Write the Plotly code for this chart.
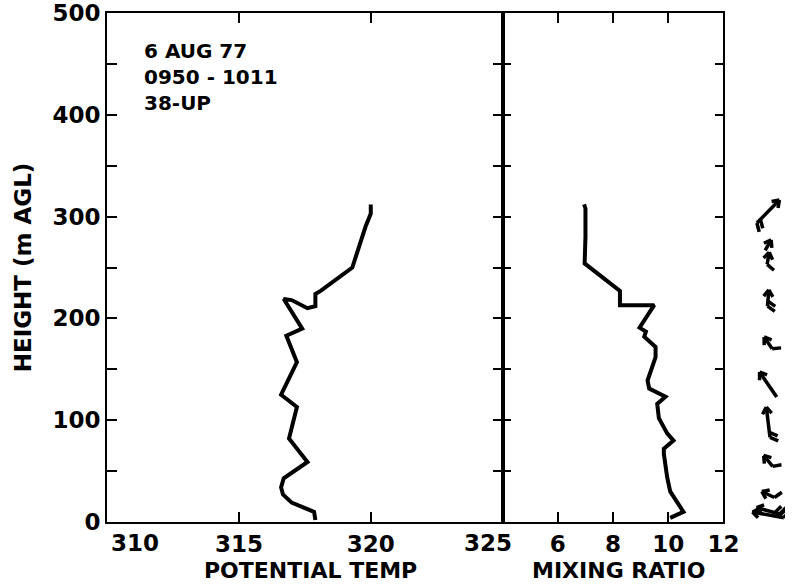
import math
import plotly.graph_objects as go

# ---- data ----
theta_height = [2, 10, 19, 27, 34, 43, 59, 82, 113, 125, 157, 183, 190, 214, 219, 218, 210, 212, 224, 227, 250, 290, 303, 312]
theta_value = [317.9, 317.85, 317.0, 316.67, 316.6, 316.7, 317.6, 316.9, 317.2, 316.6, 317.2, 316.8, 317.4, 316.8, 316.7, 317.0, 317.6, 317.9, 317.9, 318.1, 319.3, 319.8, 320.0, 320.0]

mr_height = [4, 10, 30, 44, 67, 72, 80, 87, 102, 116, 123, 131, 139, 162, 172, 182, 187, 191, 213, 213, 227, 254, 280, 300, 308, 312]
mr_value = [10.07, 10.55, 10.07, 9.96, 9.84, 9.84, 10.19, 9.96, 9.66, 9.6, 9.9, 9.31, 9.25, 9.54, 9.54, 9.13, 9.19, 8.96, 9.49, 8.25, 8.25, 6.97, 7.0, 7.02, 7.0, 6.95]

wind_height = [305, 272, 259, 220, 176, 135, 98, 60, 27, 11, 7]
wind_dir = [45, 60, 80, 85, 125, 125, 97, 130, 155, 165, 170]   # direction arrow points (deg, ccw from east)
wind_len = [32, 12, 12, 16, 14, 30, 30, 14, 14, 24, 32]
wind_feathers = [2, 0, 1, 2, 1, 0, 2, 1, 1, 2, 2]

theta_ticks = [315, 320]
mr_ticks = [6, 8, 10, 12]
height_ticks = list(range(0, 501, 50))
height_labels = [str(v) if v % 100 == 0 else "" for v in height_ticks]
info_lines = ["6 AUG 77", "0950 - 1011", "38-UP"]

FONT = "DejaVu Sans"
TF = dict(family=FONT, size=23, color="black", weight="bold")
TITLEF = dict(family=FONT, size=22, color="black", weight="bold")
W, H = 801, 584
L, R, T, B = 107, 0, 12, 62
pw = W - L - R
x_div = 512
x_right = 738
x_wind = 745
D1 = (x_div - L) / pw
D2 = (x_right - L) / pw
D3 = (x_wind - L) / pw
px_per_m = (H - T - B) / 500.0
wind_range = (W - x_wind) / px_per_m

fig = go.Figure()

fig.add_trace(go.Scatter(x=theta_value, y=theta_height, mode="lines",
                         line=dict(color="black", width=4), xaxis="x", yaxis="y"))
fig.add_trace(go.Scatter(x=mr_value, y=mr_height, mode="lines",
                         line=dict(color="black", width=4), xaxis="x2", yaxis="y2"))

# wind glyphs
cx = 38.0
wx, wy = [], []
for h, d, ln, nf in zip(wind_height, wind_dir, wind_len, wind_feathers):
    a = math.radians(d)
    ux, uy = math.cos(a), math.sin(a)
    tip = (cx + ux * ln / 2, h + uy * ln / 2)
    tail = (cx - ux * ln / 2, h - uy * ln / 2)
    wx += [tail[0], tip[0], None]
    wy += [tail[1], tip[1], None]
    for s in (145, -145):
        b = a + math.radians(s)
        wx += [tip[0], tip[0] + 8 * math.cos(b), None]
        wy += [tip[1], tip[1] + 8 * math.sin(b), None]
    for k in range(nf):
        px = tail[0] + ux * 5 * k
        py = tail[1] + uy * 5 * k
        b = a + math.radians(-120)
        wx += [px, px + 9 * math.cos(b), None]
        wy += [py, py + 9 * math.sin(b), None]
fig.add_trace(go.Scatter(x=wx, y=wy, mode="lines", line=dict(color="black", width=3.5),
                         xaxis="x3", yaxis="y3", cliponaxis=False))

axis_common = dict(showline=True, linecolor="black", linewidth=2, mirror="ticks",
                   ticks="inside", tickcolor="black", tickwidth=2, showgrid=False,
                   zeroline=False, tickfont=TF)

fig.update_layout(
    width=W, height=H, margin=dict(l=L, r=R, t=T, b=B),
    plot_bgcolor="white", paper_bgcolor="white", showlegend=False,
    font=TF,
    xaxis=dict(domain=[0, D1], range=[310, 325], tickvals=theta_ticks,
               ticktext=[str(v) for v in theta_ticks], ticklen=10, anchor="y",
               ticklabelstandoff=0, **axis_common),
    yaxis=dict(domain=[0, 1], range=[0, 500], tickvals=height_ticks, ticktext=height_labels,
               ticklen=10, anchor="x", ticklabeloverflow="allow",
               title=dict(text="HEIGHT (m AGL)", standoff=14, font=TF),
               **axis_common),
    xaxis2=dict(domain=[D1, D2], range=[4, 12], tickvals=mr_ticks,
                ticktext=[str(v) for v in mr_ticks], ticklen=10, anchor="y2",
                ticklabelstandoff=0, **axis_common),
    yaxis2=dict(domain=[0, 1], range=[0, 500], tickvals=height_ticks, showticklabels=False,
                ticklen=8, anchor="x2", matches="y", **axis_common),
    xaxis3=dict(domain=[D3, 1], range=[0, wind_range], visible=False, anchor="y3"),
    yaxis3=dict(domain=[0, 1], range=[0, 500], visible=False, anchor="x3", matches="y"),
)

# axis titles under the two panels
fig.add_annotation(x=317.7, y=0, xref="x", yref="paper", text="POTENTIAL TEMP", showarrow=False,
                   xanchor="center", yanchor="bottom", yshift=-62, borderpad=0, font=TITLEF)
fig.add_annotation(x=8.2, y=0, xref="x2", yref="paper", text="MIXING RATIO", showarrow=False,
                   xanchor="center", yanchor="bottom", yshift=-62, borderpad=0, font=TITLEF)

# end tick labels of the temperature axis, set inward from the frame corners
fig.add_annotation(x=310, y=0, xref="x", yref="paper", text="310", showarrow=False,
                   xanchor="left", yanchor="top", yshift=-7, xshift=3, borderpad=0, font=TF)
fig.add_annotation(x=325, y=0, xref="x", yref="paper", text="325", showarrow=False,
                   xanchor="right", yanchor="top", yshift=-7, xshift=10, borderpad=0, font=TF)

fig.add_annotation(x=311.33, y=476, xref="x", yref="y", xanchor="left", yanchor="top",
                   text="<br>".join(info_lines), showarrow=False, align="left",
                   font=dict(family=FONT, size=20, color="black", weight="bold"))

fig.write_html("out.html")
